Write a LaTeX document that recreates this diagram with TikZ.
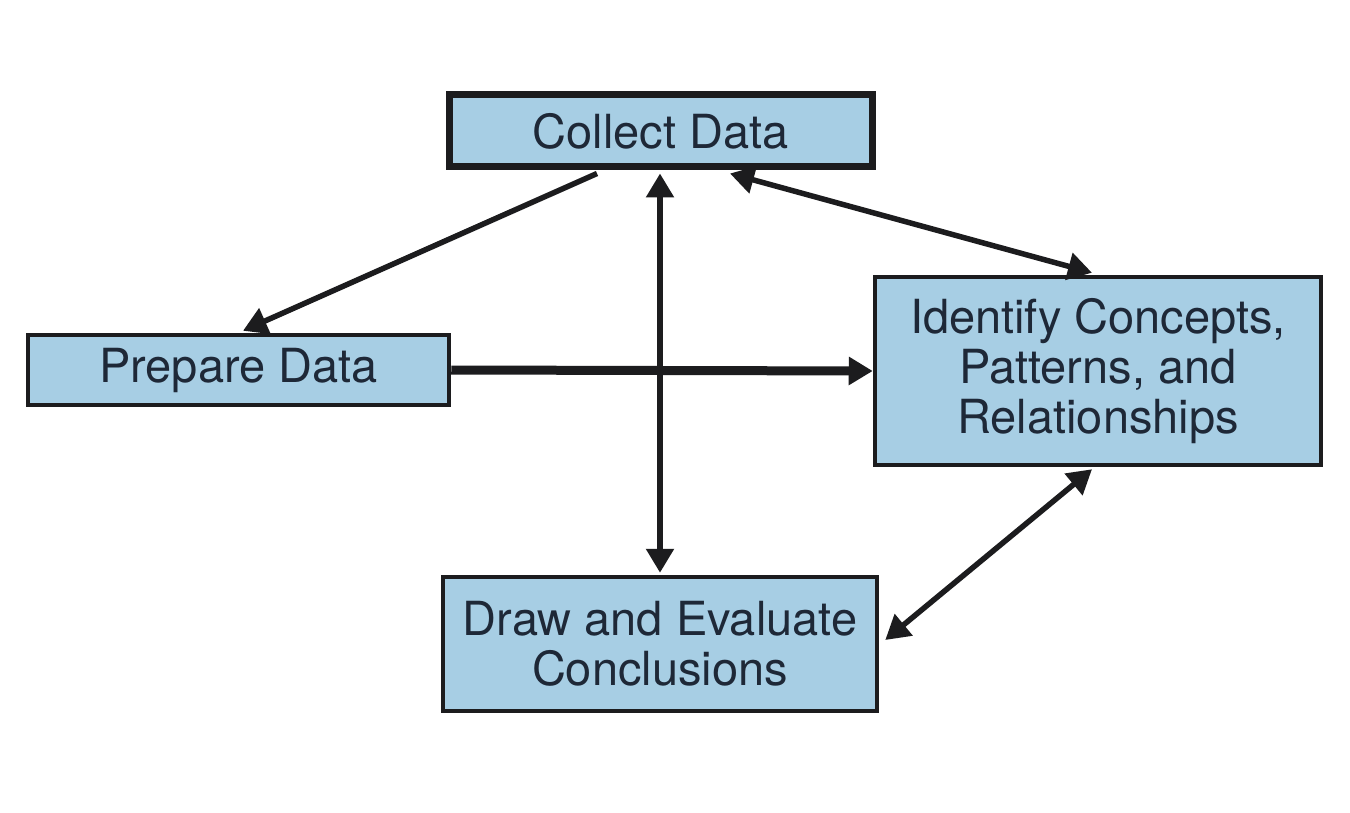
\documentclass[tikz,border=0pt]{standalone}
\usepackage{fontspec}
\setmainfont{TeX Gyre Heros}
\usetikzlibrary{arrows.meta,calc}
\definecolor{boxfill}{RGB}{167,206,228}
\definecolor{boxtext}{RGB}{30,40,55}
\definecolor{linecol}{RGB}{28,28,30}
\begin{document}
\begin{tikzpicture}[x=1pt,y=-1pt,
  stepbox/.style={draw=linecol,fill=boxfill,line width=4.5pt,inner sep=0pt,
    align=center,text=boxtext,font=\fontsize{47}{50}\selectfont},
  conn/.style={draw=linecol,line width=5.5pt,-{Triangle[length=24pt,width=27pt]}},
  dconn/.style={draw=linecol,line width=5.5pt,{Triangle[length=24pt,width=27pt]}-{Triangle[length=24pt,width=27pt]}}]
\useasboundingbox (0,0) rectangle (1350,813);
\fill[white] (0,0) rectangle (1350,813);
\node[stepbox,line width=7pt,minimum width=423pt,minimum height=72pt] (collect) at (660.5,131) {Collect Data};
\node[stepbox,minimum width=421pt,minimum height=70pt] (prepare) at (238.5,370) {Prepare Data};
\node[stepbox,minimum width=446pt,minimum height=188pt] (identify) at (1098,371) {Identify Concepts,\\Patterns, and\\Relationships};
\node[stepbox,minimum width=434pt,minimum height=134pt] (draw) at (660,644) {Draw and Evaluate\\Conclusions};
% connectors
\draw[conn] ($(collect.south)+(-63.5,3)$) -- ($(prepare.north)+(4.5,-2)$);
\draw[dconn] ($(collect.south)+(-0.5,3)$) -- ($(draw.north)+(0,-2)$);
\draw[dconn] ($(collect.south)+(69.5,3)$) -- ($(identify.north)+(-6,-2)$);
\draw[conn,line width=9pt] (prepare.east) -- (identify.west);
\draw[dconn] ($(identify.south)+(-6,2)$) -- ($(draw.east)+(6,-4)$);
\end{tikzpicture}
\end{document}
